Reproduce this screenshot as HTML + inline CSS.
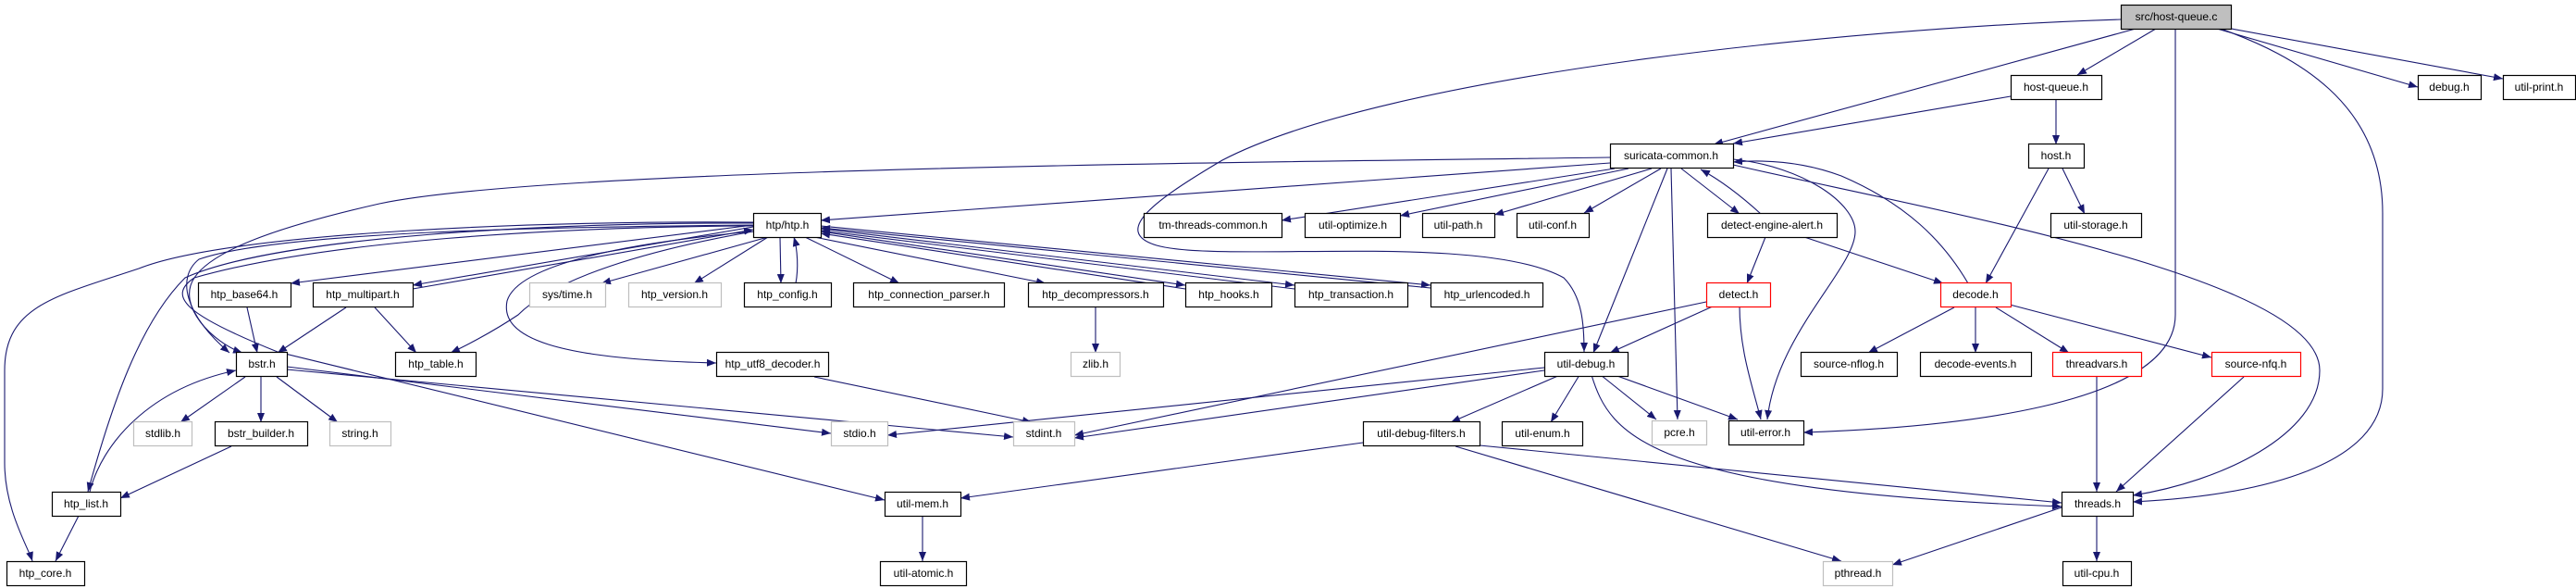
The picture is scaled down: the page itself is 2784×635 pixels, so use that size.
<!DOCTYPE html>
<html><head><meta charset="utf-8"><style>
html,body{margin:0;padding:0;background:#fff;}
svg{display:block;}
text{font-family:"Liberation Sans",sans-serif;font-size:12px;fill:#000;text-anchor:middle;}
.n rect{fill:#fff;stroke:#000;stroke-width:1.2;}
.g rect{fill:#fff;stroke:#bfbfbf;stroke-width:1.2;}
.r rect{fill:#fff;stroke:#ff0000;stroke-width:1.2;}
.e{fill:none;stroke:#191970;stroke-width:1.1;marker-end:url(#a);}
</style></head><body>
<svg width="2784" height="635" viewBox="0 0 2784 635" xmlns="http://www.w3.org/2000/svg">
<defs><marker id="a" viewBox="0 0 10 10" refX="10" refY="5" markerWidth="10" markerHeight="10" markerUnits="userSpaceOnUse" orient="auto"><path d="M0,1 L10,5 L0,9 z" fill="#191970"/></marker></defs>

<g>
<path class="e" d="M2396,31 L2613,94"/>
<path class="e" d="M2406,30 L2705,85"/>
<path class="e" d="M2330,31 L2245,81"/>
<path class="e" d="M2308,31 L1852,156"/>
<path class="e" d="M2292,21 C2000,30 1500,80 1321,173 C1250,215 1200,250 1250,265 C1320,285 1600,250 1690,300 C1710,320 1712,350 1712,380"/>
<path class="e" d="M2351,31 L2351,340 C2351,440 2100,462 1949,467"/>
<path class="e" d="M2400,31 C2480,60 2575,110 2575,230 L2575,420 C2575,500 2450,535 2305,542"/>
<path class="e" d="M2173,104 L1873,155"/>
<path class="e" d="M2222,107 L2222,156"/>
<path class="e" d="M2214,182 L2146,306"/>
<path class="e" d="M2229,182 L2253,231"/>
<path class="e" d="M1740,170 C1400,175 600,180 410,220 C300,245 230,270 210,300 C190,330 230,370 262,381"/>
<path class="e" d="M1740,176 L887,238"/>
<path class="e" d="M1745,182 L1385,238"/>
<path class="e" d="M1760,182 L1513,233"/>
<path class="e" d="M1785,182 L1615,232"/>
<path class="e" d="M1795,182 L1712,230"/>
<path class="e" d="M1802,182 L1722,381"/>
<path class="e" d="M1806,182 L1813,453"/>
<path class="e" d="M1817,182 L1880,231"/>
<path class="e" d="M1903,231 C1880,210 1860,195 1838,183"/>
<path class="e" d="M1873,172 C1950,180 2005,220 2005,250 C2005,290 1920,360 1910,453"/>
<path class="e" d="M1873,178 C2100,230 2507,300 2507,400 C2507,470 2400,520 2305,535"/>
<path class="e" d="M2127,306 C2100,260 2060,220 1990,190 C1950,175 1910,172 1873,175"/>
<path class="e" d="M1908,256 L1888,306"/>
<path class="e" d="M1950,256 L2100,306"/>
<path class="e" d="M2112,332 L2019,381"/>
<path class="e" d="M2135,332 L2135,381"/>
<path class="e" d="M2157,332 L2236,381"/>
<path class="e" d="M2172,329 L2390,386"/>
<path class="e" d="M2266,407 L2266,531"/>
<path class="e" d="M2425,407 L2287,531"/>
<path class="e" d="M2228,548 L2045,610"/>
<path class="e" d="M2266,557 L2266,606"/>
<path class="e" d="M1844,326 L1161,470"/>
<path class="e" d="M1853,330 L1740,381"/>
<path class="e" d="M1880,330 C1880,380 1895,420 1903,453"/>
<path class="e" d="M1669,397 L959,470"/>
<path class="e" d="M1669,400 L1161,473"/>
<path class="e" d="M1686,405 L1568,456"/>
<path class="e" d="M1707,405 L1676,456"/>
<path class="e" d="M1730,405 L1790,453"/>
<path class="e" d="M1745,405 L1878,453"/>
<path class="e" d="M1720,405 C1740,470 1780,530 2228,547"/>
<path class="e" d="M1473,478 L1038,538"/>
<path class="e" d="M1599,481 L2228,543"/>
<path class="e" d="M1573,482 L1990,606"/>
<path class="e" d="M997,558 L997,606"/>
<path class="e" d="M814,243 L314,306"/>
<path class="e" d="M814,245 L446,308"/>
<path class="e" d="M446,312 L814,248"/>
<path class="e" d="M830,256 L650,306"/>
<path class="e" d="M830,256 L750,306"/>
<path class="e" d="M843,256 L844,306"/>
<path class="e" d="M860,306 C863,290 862,270 858,256"/>
<path class="e" d="M870,256 L972,306"/>
<path class="e" d="M880,256 L1130,306"/>
<path class="e" d="M887,250 L1281,308"/>
<path class="e" d="M1281,312 L887,252"/>
<path class="e" d="M887,247 L1399,308"/>
<path class="e" d="M1399,312 L887,249"/>
<path class="e" d="M887,244 L1546,308"/>
<path class="e" d="M1546,311 L887,246"/>
<path class="e" d="M814,250 C680,262 560,285 548,325 C540,365 600,388 774,392"/>
<path class="e" d="M814,250 C700,270 600,300 560,340 C530,360 500,375 487,381"/>
<path class="e" d="M814,243 C600,245 300,250 215,280 C190,300 200,340 248,381"/>
<path class="e" d="M814,241 C600,240 300,255 200,300 C150,350 120,440 95,531"/>
<path class="e" d="M97,531 C110,480 160,420 255,400"/>
<path class="e" d="M814,240 C600,238 250,250 150,290 C60,320 5,330 5,400 L5,500 C5,550 30,590 35,606"/>
<path class="e" d="M814,244 C600,245 350,260 210,300 C180,320 200,340 300,380 L956,540"/>
<path class="e" d="M267,332 L278,381"/>
<path class="e" d="M374,332 L300,381"/>
<path class="e" d="M405,332 L450,381"/>
<path class="e" d="M265,407 L195,456"/>
<path class="e" d="M282,407 L282,456"/>
<path class="e" d="M299,407 L365,456"/>
<path class="e" d="M310,396 L898,468"/>
<path class="e" d="M310,399 L1095,472"/>
<path class="e" d="M250,482 L130,538"/>
<path class="e" d="M85,557 L60,606"/>
<path class="e" d="M1184,332 L1184,381"/>
<path class="e" d="M880,407 L1115,456"/>
</g>

<g>
<g class="n"><rect x="2292.5" y="5.5" width="119" height="26" style="fill:#bfbfbf"/><text x="2352" y="22">src/host-queue.c</text></g>
<g class="n"><rect x="2173.5" y="81.5" width="98" height="26"/><text x="2222" y="98">host-queue.h</text></g>
<g class="n"><rect x="2613.5" y="81.5" width="68" height="26"/><text x="2647" y="98">debug.h</text></g>
<g class="n"><rect x="2705.5" y="81.5" width="78" height="26"/><text x="2744" y="98">util-print.h</text></g>
<g class="n"><rect x="1740.5" y="155.5" width="133" height="26"/><text x="1806" y="172">suricata-common.h</text></g>
<g class="n"><rect x="2192.5" y="155.5" width="60" height="26"/><text x="2222" y="172">host.h</text></g>
<g class="n"><rect x="814.5" y="230.5" width="73" height="26"/><text x="851" y="247">htp/htp.h</text></g>
<g class="n"><rect x="1236.5" y="230.5" width="149" height="26"/><text x="1311" y="247">tm-threads-common.h</text></g>
<g class="n"><rect x="1410.5" y="230.5" width="103" height="26"/><text x="1462" y="247">util-optimize.h</text></g>
<g class="n"><rect x="1537.5" y="230.5" width="78" height="26"/><text x="1576" y="247">util-path.h</text></g>
<g class="n"><rect x="1639.5" y="230.5" width="78" height="26"/><text x="1678" y="247">util-conf.h</text></g>
<g class="n"><rect x="1845.5" y="230.5" width="140" height="26"/><text x="1915" y="247">detect-engine-alert.h</text></g>
<g class="n"><rect x="2216.5" y="230.5" width="98" height="26"/><text x="2265" y="247">util-storage.h</text></g>

<g class="n"><rect x="214.5" y="305.5" width="100" height="26"/><text x="264" y="322">htp_base64.h</text></g>
<g class="n"><rect x="338.5" y="305.5" width="108" height="26"/><text x="392" y="322">htp_multipart.h</text></g>
<g class="g"><rect x="572.5" y="305.5" width="82" height="26"/><text x="613" y="322">sys/time.h</text></g>
<g class="g"><rect x="679.5" y="305.5" width="100" height="26"/><text x="729" y="322">htp_version.h</text></g>
<g class="n"><rect x="804.5" y="305.5" width="94" height="26"/><text x="851" y="322">htp_config.h</text></g>
<g class="n"><rect x="922.5" y="305.5" width="163" height="26"/><text x="1004" y="322">htp_connection_parser.h</text></g>
<g class="n"><rect x="1111.5" y="305.5" width="146" height="26"/><text x="1184" y="322">htp_decompressors.h</text></g>
<g class="n"><rect x="1281.5" y="305.5" width="93" height="26"/><text x="1328" y="322">htp_hooks.h</text></g>
<g class="n"><rect x="1399.5" y="305.5" width="122" height="26"/><text x="1460" y="322">htp_transaction.h</text></g>
<g class="n"><rect x="1546.5" y="305.5" width="121" height="26"/><text x="1607" y="322">htp_urlencoded.h</text></g>
<g class="r"><rect x="1844.5" y="305.5" width="69" height="26"/><text x="1879" y="322">detect.h</text></g>
<g class="r"><rect x="2097.5" y="305.5" width="76" height="26"/><text x="2135" y="322">decode.h</text></g>

<g class="n"><rect x="255.5" y="380.5" width="55" height="26"/><text x="283" y="397">bstr.h</text></g>
<g class="n"><rect x="427.5" y="380.5" width="87" height="26"/><text x="471" y="397">htp_table.h</text></g>
<g class="n"><rect x="774.5" y="380.5" width="121" height="26"/><text x="835" y="397">htp_utf8_decoder.h</text></g>
<g class="g"><rect x="1157.5" y="380.5" width="53" height="26"/><text x="1184" y="397">zlib.h</text></g>
<g class="n"><rect x="1669.5" y="380.5" width="90" height="26"/><text x="1714" y="397">util-debug.h</text></g>
<g class="n"><rect x="1946.5" y="380.5" width="104" height="26"/><text x="1998" y="397">source-nflog.h</text></g>
<g class="n"><rect x="2075.5" y="380.5" width="120" height="26"/><text x="2135" y="397">decode-events.h</text></g>
<g class="r"><rect x="2218.5" y="380.5" width="96" height="26"/><text x="2266" y="397">threadvars.h</text></g>
<g class="r"><rect x="2390.5" y="380.5" width="96" height="26"/><text x="2438" y="397">source-nfq.h</text></g>

<g class="g"><rect x="144.5" y="455.5" width="63" height="26"/><text x="176" y="472">stdlib.h</text></g>
<g class="n"><rect x="232.5" y="455.5" width="100" height="26"/><text x="282" y="472">bstr_builder.h</text></g>
<g class="g"><rect x="356.5" y="455.5" width="66" height="26"/><text x="389" y="472">string.h</text></g>
<g class="g"><rect x="898.5" y="455.5" width="61" height="26"/><text x="929" y="472">stdio.h</text></g>
<g class="g"><rect x="1095.5" y="455.5" width="66" height="26"/><text x="1128" y="472">stdint.h</text></g>
<g class="n"><rect x="1473.5" y="455.5" width="126" height="26"/><text x="1536" y="472">util-debug-filters.h</text></g>
<g class="n"><rect x="1623.5" y="455.5" width="87" height="26"/><text x="1667" y="472">util-enum.h</text></g>
<g class="g"><rect x="1785.5" y="454.5" width="59" height="26"/><text x="1815" y="471">pcre.h</text></g>
<g class="n"><rect x="1868.5" y="454.5" width="81" height="26"/><text x="1908" y="471">util-error.h</text></g>

<g class="n"><rect x="56.5" y="531.5" width="74" height="26"/><text x="93" y="548">htp_list.h</text></g>
<g class="n"><rect x="956.5" y="531.5" width="82" height="26"/><text x="997" y="548">util-mem.h</text></g>
<g class="n"><rect x="2228.5" y="531.5" width="77" height="26"/><text x="2267" y="548">threads.h</text></g>

<g class="n"><rect x="7.5" y="606.5" width="84" height="26"/><text x="49" y="623">htp_core.h</text></g>
<g class="n"><rect x="951.5" y="606.5" width="93" height="26"/><text x="998" y="623">util-atomic.h</text></g>
<g class="g"><rect x="1970.5" y="606.5" width="75" height="26"/><text x="2008" y="623">pthread.h</text></g>
<g class="n"><rect x="2229.5" y="606.5" width="74" height="26"/><text x="2266" y="623">util-cpu.h</text></g>
</g>
</svg>
</body></html>
